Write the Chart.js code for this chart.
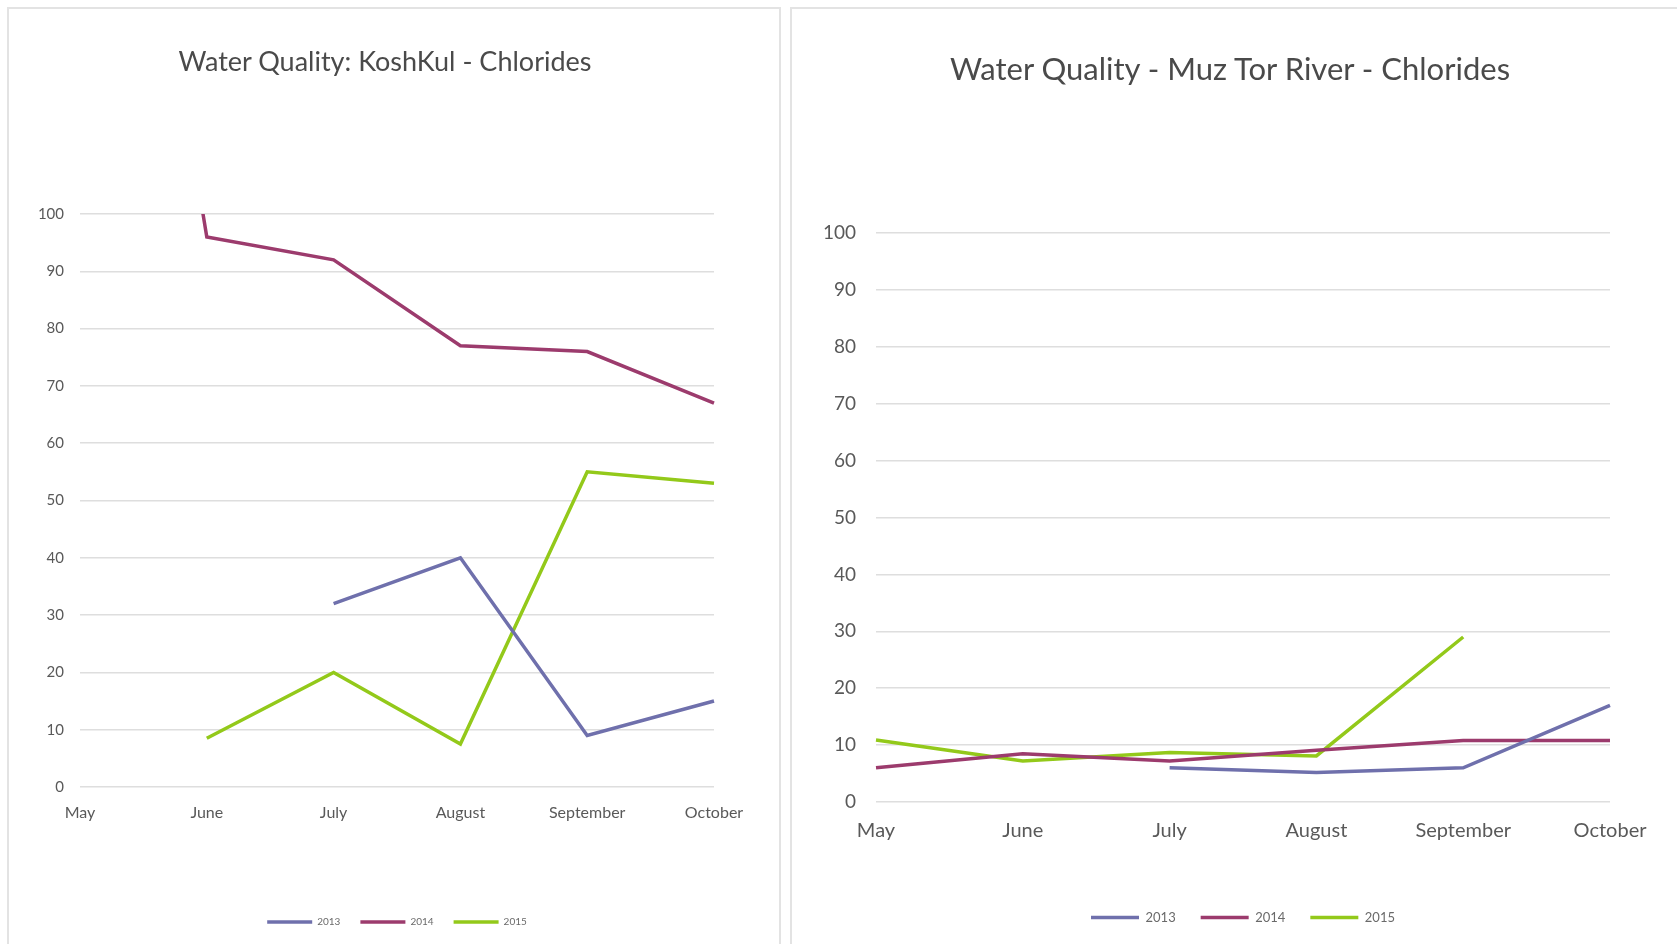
<!DOCTYPE html>
<html>
<head>
<meta charset="utf-8">
<script src="https://cdn.jsdelivr.net/npm/chart.js@4"></script>
<style>
  html, body { margin: 0; padding: 0; background: #ffffff; }
  body { width: 1677px; height: 944px; position: relative; overflow: hidden; font-family: Lato, "Open Sans", sans-serif; }
  .panel { position: absolute; border: 2px solid #e3e3e3; border-bottom: none; background: #ffffff; }
  #panelA { left: 7px; top: 7px; width: 770px; height: 945px; }
  #panelB { left: 790px; top: 7px; width: 900px; height: 945px; }
  canvas { position: absolute; }
  #chartA { left: 9px; top: 8px; }
  #chartB { left: 792px; top: 8px; }
  .title { position: absolute; white-space: nowrap; color: #4a4a4a; transform: translate(-50%, -50%); line-height: 1; }
  #titleA { left: 385px; top: 60px; font-size: 27px; }
  #titleB { left: 1230px; top: 68px; font-size: 31px; }
</style>
</head>
<body>
<div class="panel" id="panelA"></div>
<div class="panel" id="panelB"></div>
<canvas id="chartA" width="770" height="936"></canvas>
<canvas id="chartB" width="885" height="936"></canvas>
<div class="title" id="titleA">Water Quality: KoshKul - Chlorides</div>
<div class="title" id="titleB">Water Quality - Muz Tor River - Chlorides</div>
<script>
// Month categories shared by both charts
const months = ['May', 'June', 'July', 'August', 'September', 'October'];
const seasons = ['2013', '2014', '2015'];

// KoshKul lake, chlorides
const koshkul2013 = [null, null, 32, 40, 9, 15];
const koshkul2014 = [230, 96, 92, 77, 76, 67];
const koshkul2015 = [null, 8.5, 20, 7.5, 55, 53];

// Muz Tor river, chlorides
const muztor2013 = [null, null, 6, 5.2, 6, 17];
const muztor2014 = [6, 8.5, 7.2, 9.1, 10.8, 10.8];
const muztor2015 = [10.9, 7.2, 8.7, 8.1, 29, null];

const yMin = 0, yMax = 100, yStep = 10;

const seriesColors = ['#6f70ac', '#9c3b6d', '#93c91a'];
const FONT = 'Lato, "Open Sans", sans-serif';

function makeChart(id, series, L) {
  const datasets = series.map((values, i) => ({
    label: seasons[i],
    data: values,
    borderColor: seriesColors[i],
    backgroundColor: seriesColors[i],
    borderWidth: 3.5,
    pointRadius: 0,
    pointHoverRadius: 0,
    tension: 0,
    fill: false,
    spanGaps: false
  }));
  return new Chart(document.getElementById(id), {
    type: 'line',
    data: { labels: months, datasets },
    options: {
      responsive: false,
      animation: false,
      events: [],
      layout: { padding: { left: 0, right: L.padRight, top: L.padTop, bottom: L.padBottom } },
      plugins: {
        title: { display: false },
        legend: {
          display: true,
          position: 'bottom',
          fullSize: false,
          labels: {
            usePointStyle: true,
            pointStyle: 'line',
            pointStyleWidth: L.legendLine,
            color: '#6a6a6a',
            font: { family: FONT, size: L.legendSize },
            padding: L.legendPad
          }
        },
        tooltip: { enabled: false }
      },
      scales: {
        x: {
          type: 'category',
          offset: false,
          grid: { display: false },
          border: { display: false },
          ticks: {
            color: '#595959',
            font: { family: FONT, size: L.xSize },
            padding: L.xPad,
            maxRotation: 0,
            autoSkip: false
          },
          afterFit(scale) { scale.height = L.xHeight; }
        },
        y: {
          min: yMin,
          max: yMax,
          grid: { color: '#dedede', lineWidth: 1.5, drawTicks: false },
          border: { display: false },
          ticks: {
            stepSize: yStep,
            color: '#595959',
            font: { family: FONT, size: L.ySize },
            padding: L.yPad
          },
          afterFit(scale) { scale.width = L.yWidth; }
        }
      }
    }
  });
}

makeChart('chartA', [koshkul2013, koshkul2014, koshkul2015], {
  padTop: 206, padRight: 65, padBottom: 7,
  yWidth: 71, yPad: 16, ySize: 15,
  xHeight: 110, xPad: 8, xSize: 16,
  legendSize: 10, legendPad: 20, legendLine: 45
});

makeChart('chartB', [muztor2013, muztor2014, muztor2015], {
  padTop: 225, padRight: 67, padBottom: 10,
  yWidth: 84, yPad: 20, ySize: 19,
  xHeight: 84, xPad: 9, xSize: 20,
  legendSize: 13, legendPad: 25, legendLine: 48
});
</script>
</body>
</html>
